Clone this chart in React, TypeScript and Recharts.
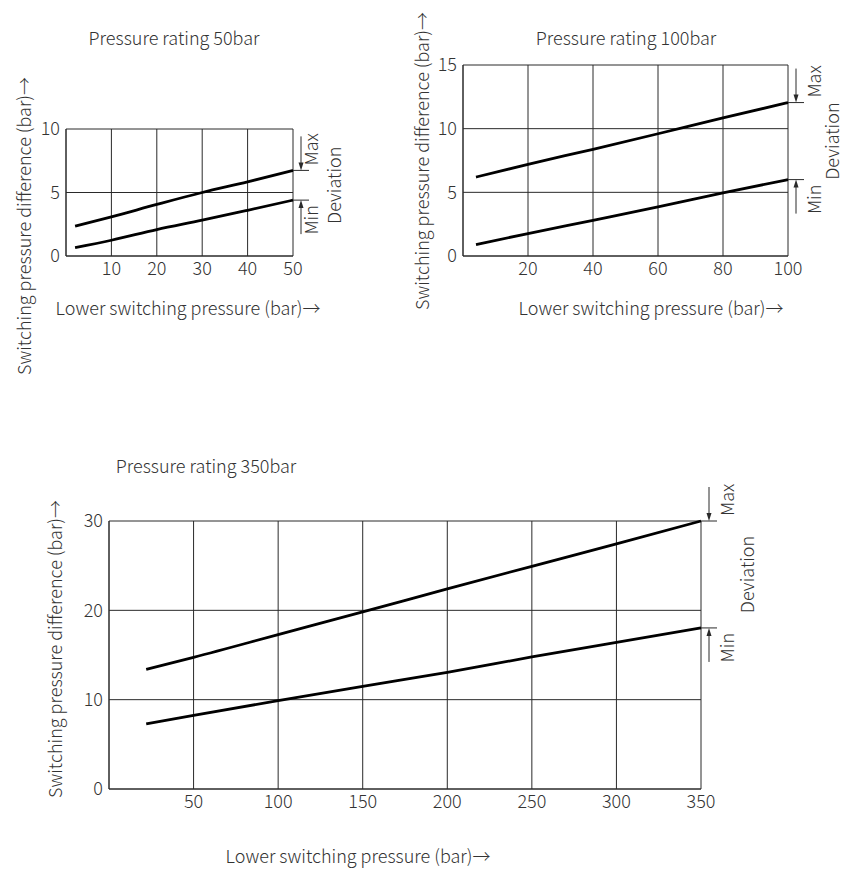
import React from "react";
import { CartesianGrid, Line, LineChart, ReferenceDot, XAxis, YAxis } from "recharts";

// Pressure rating 50bar
const p50X = [2, 10, 20, 30, 40, 50];
const p50Max = [2.35, 3.08, 4.06, 5.0, 5.84, 6.74];
const p50Min = [0.66, 1.24, 2.08, 2.82, 3.6, 4.4];
const p50XTicks = [10, 20, 30, 40, 50];
const p50YTicks = [0, 5, 10];

// Pressure rating 100bar
const p100X = [4, 20, 40, 60, 80, 100];
const p100Max = [6.2, 7.2, 8.38, 9.6, 10.84, 12.05];
const p100Min = [0.9, 1.76, 2.8, 3.85, 4.95, 6.0];
const p100XTicks = [20, 40, 60, 80, 100];
const p100YTicks = [0, 5, 10, 15];

// Pressure rating 350bar
const p350X = [22, 50, 100, 150, 200, 250, 300, 350];
const p350Max = [13.4, 14.74, 17.28, 19.82, 22.4, 24.93, 27.43, 30.0];
const p350Min = [7.3, 8.24, 9.89, 11.49, 13.06, 14.78, 16.42, 18.03];
const p350XTicks = [50, 100, 150, 200, 250, 300, 350];
const p350YTicks = [0, 10, 20, 30];

const FONT = '"Noto Sans CJK JP", "Noto Sans", sans-serif';
const FS = 18;
const TEXT = "#333";
const GRID = "#2a2a2a";
const Y_W = 30;
const X_H = 20;

type Rect = { left: number; top: number; width: number; height: number };
type Plot = { x0: number; x1: number; y0: number; y1: number };

function makeRows(xs: number[], max: number[], min: number[]) {
  return xs.map((x, i) => ({ x, max: max[i], min: min[i] }));
}

function VText({ x, y, anchor, children }: { x: number; y: number; anchor: "start" | "middle" | "end"; children: string }) {
  return (
    <text
      x={x}
      y={y}
      transform={`rotate(-90 ${x} ${y})`}
      textAnchor={anchor}
      dominantBaseline="central"
      fontFamily={FONT}
      fontWeight={300}
      fontSize={FS}
      fill={TEXT}
    >
      {children}
    </text>
  );
}

function MarkerMax(labelDx: number) {
  return (p: any) => {
    const { cx, cy } = p;
    const ax = cx + 8;
    return (
      <g>
        <line x1={cx} y1={cy} x2={cx + 16} y2={cy} stroke={GRID} strokeWidth={1} />
        <line x1={ax} y1={cy - 34} x2={ax} y2={cy - 6} stroke={GRID} strokeWidth={1} />
        <path d={`M${ax - 2.5},${cy - 8} L${ax + 2.5},${cy - 8} L${ax},${cy} Z`} fill={GRID} />
        <VText x={cx + labelDx} y={cy - 5} anchor="start">Max</VText>
      </g>
    );
  };
}

function MarkerMin(labelDx: number) {
  return (p: any) => {
    const { cx, cy } = p;
    const ax = cx + 8;
    return (
      <g>
        <line x1={cx} y1={cy} x2={cx + 16} y2={cy} stroke={GRID} strokeWidth={1} />
        <line x1={ax} y1={cy + 34} x2={ax} y2={cy + 6} stroke={GRID} strokeWidth={1} />
        <path d={`M${ax - 2.5},${cy + 8} L${ax + 2.5},${cy + 8} L${ax},${cy} Z`} fill={GRID} />
        <VText x={cx + labelDx} y={cy + 5} anchor="end">Min</VText>
      </g>
    );
  };
}

function MarkerDev(labelDx: number) {
  return (p: any) => {
    const { cx, cy } = p;
    return <VText x={cx + labelDx} y={cy} anchor="middle">Deviation</VText>;
  };
}

function Label({ x, y, text, rotate }: { x: number; y: number; text: string; rotate?: boolean }) {
  return (
    <div
      style={{
        position: "absolute",
        left: x,
        top: y,
        transform: `translate(-50%, -50%)${rotate ? " rotate(-90deg)" : ""}`,
        whiteSpace: "nowrap",
        fontFamily: FONT,
        fontWeight: 300,
        fontSize: FS,
        color: TEXT,
        lineHeight: 1,
      }}
    >
      {text}
    </div>
  );
}

function Panel({
  box,
  plot,
  xs,
  max,
  min,
  xTicks,
  yTicks,
  labelDx,
  devDx,
}: {
  box: Rect;
  plot: Plot;
  xs: number[];
  max: number[];
  min: number[];
  xTicks: number[];
  yTicks: number[];
  labelDx: number;
  devDx: number;
}) {
  const data = makeRows(xs, max, min);
  const xMax = xTicks[xTicks.length - 1];
  const yMax = yTicks[yTicks.length - 1];
  const lastX = xs[xs.length - 1];
  const lastMax = max[max.length - 1];
  const lastMin = min[min.length - 1];
  const margin = {
    left: plot.x0 - box.left - Y_W,
    right: box.left + box.width - plot.x1,
    top: plot.y0 - box.top,
    bottom: box.top + box.height - plot.y1 - X_H,
  };
  const tick = { fontFamily: FONT, fontWeight: 300, fontSize: FS, fill: TEXT };
  return (
    <div style={{ position: "absolute", left: box.left, top: box.top }}>
      <LineChart width={box.width} height={box.height} data={data} margin={margin} style={{ overflow: "visible" }}>
        <CartesianGrid stroke={GRID} strokeWidth={1} />
        <XAxis
          dataKey="x"
          type="number"
          domain={[0, xMax]}
          ticks={xTicks}
          height={X_H}
          tickLine={false}
          axisLine={{ stroke: GRID }}
          tickSize={6}
          tickMargin={0}
          tick={tick}
          interval={0}
        />
        <YAxis
          type="number"
          domain={[0, yMax]}
          ticks={yTicks}
          width={Y_W}
          tickLine={false}
          axisLine={{ stroke: GRID }}
          tickSize={6}
          tickMargin={0}
          tick={tick}
          interval={0}
        />
        <Line type="monotone" dataKey="max" stroke="#000" strokeWidth={2.8} dot={false} isAnimationActive={false} />
        <Line type="monotone" dataKey="min" stroke="#000" strokeWidth={2.8} dot={false} isAnimationActive={false} />
        <ReferenceDot x={lastX} y={lastMax} ifOverflow="visible" shape={MarkerMax(labelDx)} />
        <ReferenceDot x={lastX} y={lastMin} ifOverflow="visible" shape={MarkerMin(labelDx)} />
        <ReferenceDot x={lastX} y={(lastMax + lastMin) / 2} ifOverflow="visible" shape={MarkerDev(devDx)} />
      </LineChart>
    </div>
  );
}

export default function App() {
  return (
    <div style={{ position: "absolute", left: 0, top: 0, width: 844, height: 869, background: "#fff" }}>
      <Panel
        box={{ left: 0, top: 100, width: 360, height: 190 }}
        plot={{ x0: 66, x1: 293, y0: 129, y1: 256 }}
        xs={p50X}
        max={p50Max}
        min={p50Min}
        xTicks={p50XTicks}
        yTicks={p50YTicks}
        labelDx={17}
        devDx={40}
      />
      <Label x={174} y={37} text="Pressure rating 50bar" />
      <Label x={188} y={307} text="Lower switching pressure (bar)→" />
      <Label x={23} y={226} text="Switching pressure difference (bar)→" rotate />

      <Panel
        box={{ left: 400, top: 40, width: 444, height: 250 }}
        plot={{ x0: 463, x1: 788, y0: 65, y1: 256 }}
        xs={p100X}
        max={p100Max}
        min={p100Min}
        xTicks={p100XTicks}
        yTicks={p100YTicks}
        labelDx={25}
        devDx={43}
      />
      <Label x={626} y={37} text="Pressure rating 100bar" />
      <Label x={651} y={307} text="Lower switching pressure (bar)→" />
      <Label x={421} y={161} text="Switching pressure difference (bar)→" rotate />

      <Panel
        box={{ left: 40, top: 480, width: 780, height: 340 }}
        plot={{ x0: 109, x1: 701, y0: 521, y1: 789 }}
        xs={p350X}
        max={p350Max}
        min={p350Min}
        xTicks={p350XTicks}
        yTicks={p350YTicks}
        labelDx={25}
        devDx={45}
      />
      <Label x={206} y={465} text="Pressure rating 350bar" />
      <Label x={358} y={855} text="Lower switching pressure (bar)→" />
      <Label x={54} y={649} text="Switching pressure difference (bar)→" rotate />
    </div>
  );
}
